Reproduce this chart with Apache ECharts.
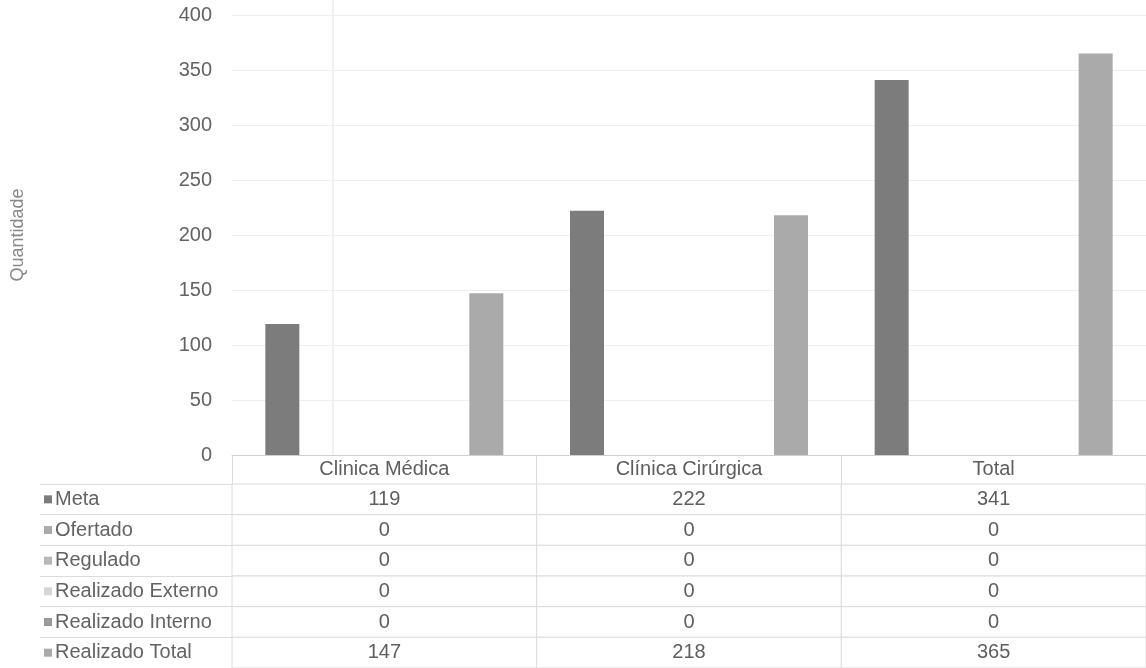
<!DOCTYPE html>
<html><head><meta charset="utf-8">
<script src="https://cdn.jsdelivr.net/npm/echarts@6/dist/echarts.min.js"></script>
<style>html,body{margin:0;padding:0;background:#fff}#c{width:1146px;height:668px}</style>
</head><body><div id="c"></div>
<script>
const categories = ['Clinica Médica', 'Clínica Cirúrgica', 'Total'];
const seriesNames = ['Meta', 'Ofertado', 'Regulado', 'Realizado Externo', 'Realizado Interno', 'Realizado Total'];
const meta = [119, 222, 341];
const ofertado = [0, 0, 0];
const regulado = [0, 0, 0];
const realizadoExterno = [0, 0, 0];
const realizadoInterno = [0, 0, 0];
const realizadoTotal = [147, 218, 365];
const yMin = 0, yMax = 400, yInterval = 50;

const values = [meta, ofertado, regulado, realizadoExterno, realizadoInterno, realizadoTotal];
const colors = ['#7c7c7c', '#ababab', '#b8b8b8', '#d6d6d6', '#999999', '#aaaaaa'];
const font = '"Liberation Sans", Arial, sans-serif';

const rich = {};
colors.forEach((c, i) => { rich['k' + i] = { width: 8, height: 8, backgroundColor: c, verticalAlign: 'middle' }; });
rich.t = { fontSize: 20, color: '#636363', fontFamily: font, padding: [0, 0, 0, 3], verticalAlign: 'middle' };

const tableData = [];
values.forEach((arr, r) => arr.forEach((v, c) => tableData.push([c, r, v])));

const chart = echarts.init(document.getElementById('c'));
const option = {
  animation: false,
  textStyle: { fontFamily: font },
  color: colors,
  grid: [
    { left: 232, right: -11, top: 15, bottom: 213 },
    { left: 232, right: -11, top: 484, bottom: -2 }
  ],
  xAxis: [
    { type: 'category', data: categories, gridIndex: 0,
      axisLine: { lineStyle: { color: '#d0d0d0' } },
      axisTick: { show: true, length: 29, lineStyle: { color: '#dcdcdc' } },
      axisLabel: { fontSize: 20, color: '#5e5e5e', margin: 4, fontFamily: font } },
    { type: 'category', data: categories, gridIndex: 1, show: false }
  ],
  yAxis: [
    { type: 'value', gridIndex: 0, min: yMin, max: yMax, interval: yInterval,
      name: 'Quantidade', nameLocation: 'middle', nameGap: 205,
      nameTextStyle: { fontSize: 18, color: '#888', fontFamily: font },
      axisLabel: { fontSize: 20, color: '#636363', margin: 20, fontFamily: font },
      splitLine: { lineStyle: { color: '#efefef' } },
      axisLine: { show: false }, axisTick: { show: false } },
    { type: 'category', gridIndex: 1, data: seriesNames, inverse: true,
      axisLine: { show: false },
      axisTick: { show: true, length: 192, lineStyle: { color: '#dcdcdc' } },
      axisLabel: { align: 'left', margin: 188, formatter: (v, i) => '{k' + i + '|}{t|' + v + '}', rich: rich } }
  ],
  graphic: [
    { type: 'line', shape: { x1: 333, y1: 0, x2: 333, y2: 455 }, style: { stroke: '#e2e2e2', lineWidth: 1 }, silent: true }
  ],
  series: seriesNames.map((name, i) => ({
    name: name, type: 'bar', xAxisIndex: 0, yAxisIndex: 0,
    data: values[i], barWidth: 34, barGap: '20%',
    itemStyle: { color: colors[i] }
  })).concat([{
    type: 'custom', xAxisIndex: 1, yAxisIndex: 1,
    encode: { x: 0, y: 1 },
    data: tableData,
    renderItem: (params, api) => {
      const p = api.coord([api.value(0), api.value(1)]);
      const s = api.size([1, 1]);
      return { type: 'group', children: [
        { type: 'rect', shape: { x: p[0] - s[0] / 2, y: p[1] - s[1] / 2, width: s[0], height: s[1] },
          style: { fill: '#fff', stroke: '#dcdcdc', lineWidth: 1 } },
        { type: 'text', style: { text: String(api.value(2)), x: p[0], y: p[1], align: 'center', verticalAlign: 'middle',
          fontSize: 20, fill: '#5e5e5e', fontFamily: font } }
      ] };
    }
  }])
};
chart.setOption(option);
</script>
</body></html>
